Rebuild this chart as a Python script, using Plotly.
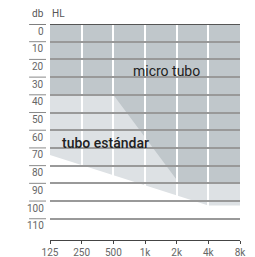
import plotly.graph_objects as go

freq_labels = ["125", "250", "500", "1k", "2k", "4k", "8k"]
db_ticks = [0, 10, 20, 30, 40, 50, 60, 70, 80, 90, 100, 110]

# boundary of "tubo estándar" (light) region: (octave index, dB)
standard_x = [0, 5, 6]
standard_db = [74, 102.5, 102.5]
# boundary of "micro tubo" (dark) region
micro_x = [0, 2, 4, 4, 6]
micro_db = [40, 40, 88, 90, 90]

x_idx = list(range(len(freq_labels)))
Y_MAX = 122


def region_path(xs, ys):
    pts = [(xs[0], 0)] + list(zip(xs, ys)) + [(xs[-1], 0)]
    return "M " + " L ".join(f"{x},{y}" for x, y in pts) + " Z"


fig = go.Figure()
fig.add_trace(go.Scatter(x=[0, 6], y=[0, 0], mode="lines", line=dict(width=0),
                         hoverinfo="skip", showlegend=False))

shapes = [
    dict(type="path", path=region_path(standard_x, standard_db), xref="x", yref="y",
         fillcolor="#dde1e4", line=dict(width=0), layer="below"),
    dict(type="path", path=region_path(micro_x, micro_db), xref="x", yref="y",
         fillcolor="#c0c7cb", line=dict(width=0), layer="below"),
    dict(type="line", x0=0, x1=6, y0=0, y1=0, xref="x", yref="y",
         line=dict(color="#555555", width=2), layer="above"),
]
annotations = []
for v in db_ticks:
    shapes.append(dict(type="line", xref="paper", yref="y", x0=-0.11, x1=-0.021, y0=v, y1=v,
                       line=dict(color="#555555" if v == 0 else "#8a8a8a", width=1.5 if v == 0 else 1)))
    annotations.append(dict(text=str(v), xref="paper", yref="y", x=-0.021, y=v, yshift=-7,
                            xanchor="right", yanchor="middle", showarrow=False,
                            font=dict(size=10, color="#666666", family="Roboto")))

annotations += [
    dict(text="db", xref="paper", yref="paper", x=-0.021, y=1.0, yshift=11, xanchor="right",
         yanchor="middle", showarrow=False, font=dict(size=10, color="#555555", family="Roboto")),
    dict(text="HL", xref="paper", yref="paper", x=0.0, y=1.0, yshift=11, xanchor="left",
         yanchor="middle", showarrow=False, font=dict(size=10, color="#555555", family="Roboto")),
    dict(text="micro tubo", x=3.69, y=26.5, xref="x", yref="y", showarrow=False,
         font=dict(size=14, color="#222222", family="Roboto")),
    dict(text="tubo estándar", x=0.3, y=67, xref="x", yref="y", showarrow=False, xanchor="left",
         font=dict(size=14, color="#222222", family="Roboto Medium, Roboto")),
]

fig.update_layout(
    width=247, height=249,
    margin=dict(l=42, r=15, t=16, b=17, autoexpand=False),
    paper_bgcolor="white", plot_bgcolor="white",
    shapes=shapes, annotations=annotations,
    showlegend=False,
    xaxis=dict(range=[0, 6], tickvals=x_idx, ticktext=freq_labels, showgrid=True,
               gridcolor="white", gridwidth=2, zeroline=False, showline=True,
               linecolor="#444444", linewidth=1, ticks="outside", ticklen=3,
               tickcolor="#444444", automargin=False,
               tickfont=dict(size=10, color="#666666", family="Roboto")),
    yaxis=dict(range=[Y_MAX, 0], tickvals=db_ticks, showticklabels=False, showgrid=True,
               gridcolor="#999999", gridwidth=1.5, zeroline=False, showline=False,
               automargin=False),
)

fig.write_html("out.html")
